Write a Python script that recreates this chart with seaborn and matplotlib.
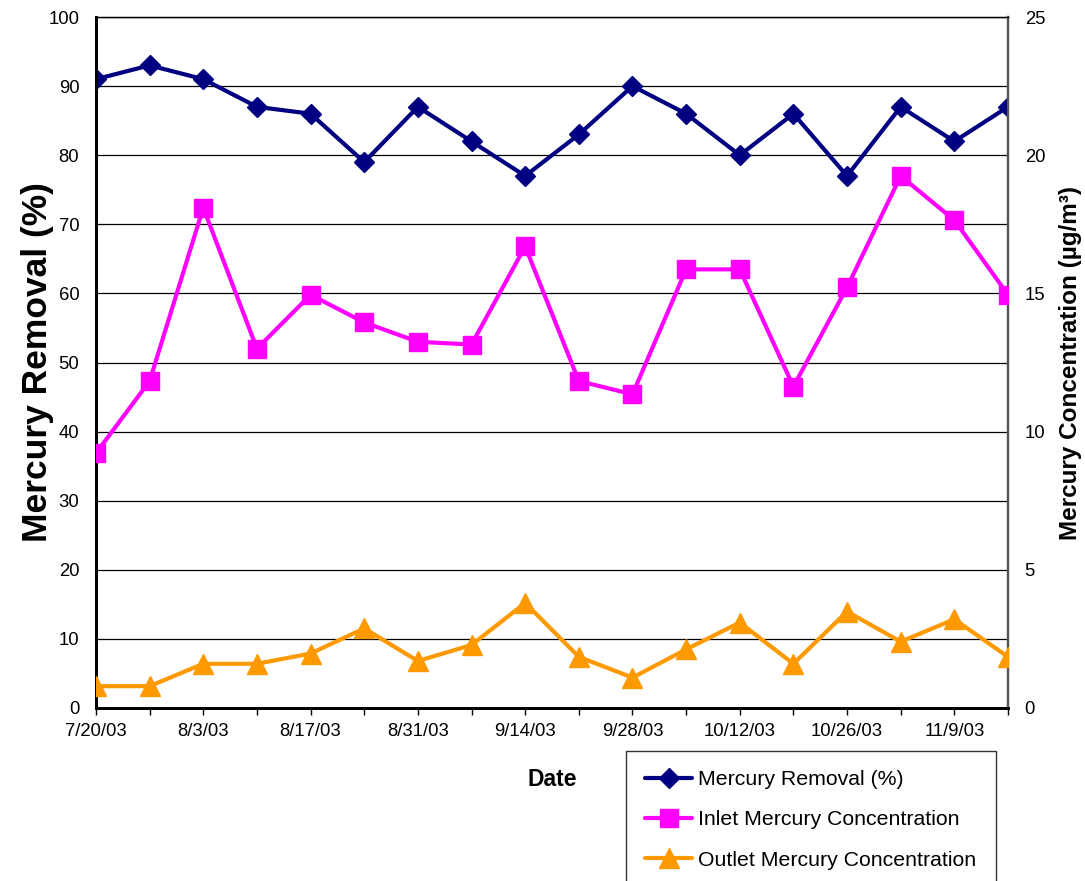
import matplotlib
matplotlib.use("Agg")
import matplotlib.pyplot as plt
import seaborn as sns
import pandas as pd

# Weekly sampling dates
dates = ["7/20/03", "7/27/03", "8/3/03", "8/10/03", "8/17/03", "8/24/03",
         "8/31/03", "9/7/03", "9/14/03", "9/21/03", "9/28/03", "10/5/03",
         "10/12/03", "10/19/03", "10/26/03", "11/2/03", "11/9/03", "11/16/03"]

# Mercury removal efficiency (%)
removal = [91, 93, 91, 87, 86, 79, 87, 82, 77, 83, 90, 86, 80, 86, 77, 87, 82, 87]

# Inlet / outlet mercury concentration (ug/m3)
inlet = [9.22, 11.83, 18.1, 13.0, 14.95, 13.95, 13.25, 13.15, 16.7, 11.83,
         11.35, 15.87, 15.87, 11.63, 15.22, 19.25, 17.65, 14.95]
outlet = [0.79, 0.79, 1.6, 1.6, 1.97, 2.88, 1.7, 2.28, 3.8, 1.85,
          1.1, 2.12, 3.09, 1.6, 3.49, 2.4, 3.21, 1.85]

series_names = ["Mercury Removal (%)", "Inlet Mercury Concentration",
                "Outlet Mercury Concentration"]

df = pd.DataFrame({
    "date": pd.to_datetime(dates, format="%m/%d/%y"),
    "removal": removal,
    "inlet": inlet,
    "outlet": outlet,
})

sns.set_style("white")
plt.rcParams["font.family"] = ["Liberation Sans", "DejaVu Sans"]
plt.rcParams["text.color"] = "black"
plt.rcParams["axes.labelcolor"] = "black"
plt.rcParams["xtick.color"] = "black"
plt.rcParams["ytick.color"] = "black"

fig = plt.figure(figsize=(10.85, 8.81), dpi=100)
ax = fig.add_axes([96 / 1085, 1 - 708 / 881, 912 / 1085, 691 / 881])
ax2 = ax.twinx()

navy = "#000080"
magenta = "#FF00FF"
orange = "#FF9900"

sns.lineplot(data=df, x="date", y="removal", ax=ax, color=navy, lw=3,
             marker="D", markersize=10.5, markeredgecolor=navy, markeredgewidth=1,
             label=series_names[0], legend=False, zorder=5)
sns.lineplot(data=df, x="date", y="inlet", ax=ax2, color=magenta, lw=3,
             marker="s", markersize=12.5, markeredgecolor=magenta, markeredgewidth=1,
             label=series_names[1], legend=False, zorder=5)
sns.lineplot(data=df, x="date", y="outlet", ax=ax2, color=orange, lw=3,
             marker="^", markersize=14, markeredgecolor=orange, markeredgewidth=1,
             label=series_names[2], legend=False, zorder=5)

# Axis ranges
ax.set_xlim(df["date"].iloc[0], df["date"].iloc[-1])
ax.set_ylim(0, 100)
ax2.set_ylim(0, 25)
ax.set_yticks(range(0, 101, 10))
ax2.set_yticks(range(0, 26, 5))

# Weekly ticks, labelled every two weeks
ax.set_xticks(df["date"])
ax.set_xticklabels([d if i % 2 == 0 else "" for i, d in enumerate(dates)])

ax.tick_params(axis="x", direction="out", length=5, width=1, color="black",
               labelcolor="black", labelsize=13.3, pad=6, bottom=True)
ax.tick_params(axis="y", length=0, labelsize=13.3, pad=12, labelcolor="black")
ax2.tick_params(axis="y", length=0, labelsize=13.3, pad=12, labelcolor="black")

# Horizontal gridlines
ax.yaxis.grid(True, color="black", lw=0.9)
ax.xaxis.grid(False)
ax2.grid(False)
ax.set_axisbelow(True)

# Spines
for a in (ax, ax2):
    a.spines["left"].set_color("black")
    a.spines["left"].set_linewidth(2)
    a.spines["bottom"].set_color("black")
    a.spines["bottom"].set_linewidth(2)
    a.spines["top"].set_color("black")
    a.spines["top"].set_linewidth(0.9)
    a.spines["right"].set_color("#555555")
    a.spines["right"].set_linewidth(1.6)

# Axis labels
ax.set_ylabel("Mercury Removal (%)", fontsize=25.5, fontweight="bold",
              va="center", ha="center", color="black")
ax.yaxis.set_label_coords(-0.064, 0.5)
ax2.set_ylabel("Mercury Concentration (\u00b5g/m\u00b3)", fontsize=17.5,
               fontweight="bold", rotation=90, va="center", ha="center",
               color="black")
ax2.yaxis.set_label_coords(1.068, 0.5)
ax.set_xlabel("Date", fontsize=16.5, fontweight="bold", va="center",
              color="black")
ax.xaxis.set_label_coords(0.5, -0.103)

# Legend collected from both axes
handles = ax.get_lines() + ax2.get_lines()
leg = fig.legend(handles=handles, labels=series_names, loc="upper left",
                 bbox_to_anchor=(626 / 1085, 1 - 751 / 881), borderaxespad=0,
                 fontsize=15.3, frameon=True, fancybox=False, shadow=False,
                 handlelength=2.2, handletextpad=0.3, labelspacing=1.0,
                 borderpad=0.9, markerscale=1.0)
leg.get_frame().set_edgecolor("black")
leg.get_frame().set_linewidth(1)
leg.get_frame().set_facecolor("white")

fig.savefig("out.png", dpi=100)
